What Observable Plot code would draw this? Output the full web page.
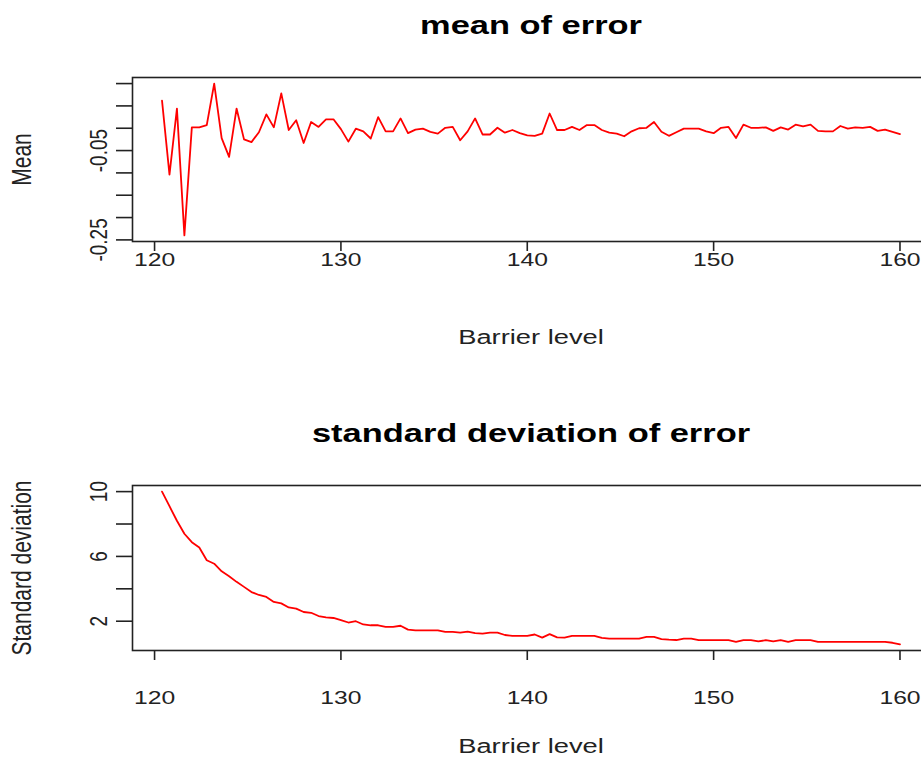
<!DOCTYPE html>
<html><head><meta charset="utf-8">
<script src="https://cdn.jsdelivr.net/npm/d3@7"></script>
<script src="https://cdn.jsdelivr.net/npm/@observablehq/plot@0.6"></script>
<style>
html,body{margin:0;padding:0;background:#fff;overflow:hidden;}
#chart{position:relative;width:921px;height:758px;overflow:hidden;background:#fff;}
#chart svg{display:block;overflow:hidden !important;max-width:none !important;}
#chart g[aria-label*="axis"] line, #chart g[aria-label*="axis"] path{stroke-width:1.6px;}
</style></head><body><div id="chart"></div>
<script>
// Barrier levels (x)
const barrier = [120.4,120.8,121.2,121.6,122.0,122.4,122.8,123.2,123.6,124.0,
124.4,124.8,125.2,125.6,126.0,126.4,126.8,127.2,127.6,128.0,
128.4,128.8,129.2,129.6,130.0,130.4,130.8,131.2,131.6,132.0,
132.4,132.8,133.2,133.6,134.0,134.4,134.8,135.2,135.6,136.0,
136.4,136.8,137.2,137.6,138.0,138.4,138.8,139.2,139.6,140.0,
140.4,140.8,141.2,141.6,142.0,142.4,142.8,143.2,143.6,144.0,
144.4,144.8,145.2,145.6,146.0,146.4,146.8,147.2,147.6,148.0,
148.4,148.8,149.2,149.6,150.0,150.4,150.8,151.2,151.6,152.0,
152.4,152.8,153.2,153.6,154.0,154.4,154.8,155.2,155.6,156.0,
156.4,156.8,157.2,157.6,158.0,158.4,158.8,159.2,159.6,160.0];

// Mean of error
const meanErr = [0.062,-0.104,0.044,-0.240,0.002,0.002,0.007,0.100,-0.022,-0.064,
0.044,-0.025,-0.031,-0.009,0.031,0.002,0.078,-0.004,0.018,-0.033,
0.014,0.003,0.020,0.020,-0.002,-0.030,-0.001,-0.007,-0.023,0.025,
-0.007,-0.007,0.022,-0.011,-0.003,-0.001,-0.008,-0.012,0.001,0.003,
-0.027,-0.007,0.022,-0.014,-0.014,0.001,-0.010,-0.004,-0.011,-0.016,
-0.017,-0.012,0.033,-0.004,-0.004,0.003,-0.004,0.007,0.007,-0.004,
-0.010,-0.012,-0.018,-0.007,0.000,0.001,0.014,-0.008,-0.017,-0.009,
-0.001,-0.001,-0.001,-0.007,-0.011,0.001,0.003,-0.022,0.008,0.001,
0.001,0.002,-0.006,0.002,-0.003,0.008,0.004,0.008,-0.006,-0.007,
-0.007,0.005,-0.001,0.002,0.001,0.003,-0.006,-0.003,-0.008,-0.013];

// Standard deviation of error
const sdErr = [10.0,9.10,8.20,7.40,6.88,6.55,5.76,5.55,5.08,4.78,
4.43,4.12,3.80,3.62,3.50,3.19,3.10,2.85,2.78,2.57,
2.52,2.32,2.24,2.20,2.07,1.92,2.00,1.80,1.75,1.75,
1.65,1.65,1.72,1.48,1.44,1.44,1.44,1.44,1.34,1.34,
1.30,1.36,1.26,1.24,1.30,1.30,1.15,1.09,1.09,1.09,
1.18,0.99,1.20,1.00,0.99,1.09,1.09,1.09,1.09,0.97,
0.93,0.93,0.93,0.93,0.93,1.03,1.03,0.90,0.86,0.84,
0.93,0.93,0.83,0.83,0.83,0.83,0.83,0.73,0.83,0.83,
0.75,0.83,0.75,0.83,0.73,0.83,0.83,0.83,0.72,0.72,
0.72,0.72,0.72,0.72,0.72,0.72,0.72,0.72,0.67,0.57];

const xTicks = [120,130,140,150,160];
const meanTicks = [-0.25,-0.20,-0.15,-0.10,-0.05,0,0.05,0.10];
const meanLabels = [-0.25,-0.05];
const sdTicks = [2,4,6,8,10];
const sdLabels = [2,6,10];
const xLabel = "Barrier level";

const FONT = "'Liberation Sans', Arial, Helvetica, sans-serif";
const STRETCH = 1.3;

function rExtent(v){ const [a,b] = d3.extent(v); const p = (b-a)*0.04; return [a-p, b+p]; }

function panel({values, yTicks, yLabels, yFmt, title, ylab, height, marginBottom, tickDy}) {
  const data = barrier.map((b,i) => ({x: b, y: values[i]}));
  const svg = Plot.plot({
    width: 921, height, marginLeft: 132, marginRight: -8, marginTop: 77, marginBottom,
    style: {fontFamily: FONT, background: "#fff", color: "#222"},
    x: {domain: rExtent(barrier), ticks: xTicks, tickSize: 10, tickFormat: () => "", label: null},
    y: {domain: rExtent(values), ticks: yTicks, tickSize: 16, tickFormat: () => "", label: null},
    marks: [
      Plot.frame({stroke: "#222", strokeWidth: 1.6}),
      Plot.line(data, {x: "x", y: "y", stroke: "#ff0000", strokeWidth: 1.8}),
      Plot.text(xTicks, {x: d => d, frameAnchor: "bottom", dy: tickDy, text: d => String(d),
        fontSize: 19, fill: "#222", textAnchor: "middle", lineAnchor: "middle"}),
      Plot.text(yLabels, {y: d => d, frameAnchor: "left", dx: -33, rotate: -90, text: yFmt,
        fontSize: 19, fill: "#222", textAnchor: "middle", lineAnchor: "middle"}),
      Plot.text([title], {frameAnchor: "top", dy: -52, text: d => d, fontSize: 26.5,
        fontWeight: "bold", fill: "#000", textAnchor: "middle", lineAnchor: "middle"}),
      Plot.text([xLabel], {frameAnchor: "bottom", dy: 96, text: d => d, fontSize: 21,
        fill: "#222", textAnchor: "middle", lineAnchor: "middle"}),
      Plot.text([ylab], {frameAnchor: "left", dx: -110, rotate: -90, text: d => d, fontSize: 21,
        fill: "#222", textAnchor: "middle", lineAnchor: "middle"})
    ]
  });
  // R-style wide glyphs: stretch text horizontally on screen
  svg.querySelectorAll("text").forEach(t => {
    if (!t.textContent) return;
    const tr = t.getAttribute("transform") || "";
    t.setAttribute("transform", tr + (/rotate/.test(tr) ? ` scale(1,${STRETCH})` : ` scale(${STRETCH},1)`));
  });
  return svg;
}

const chart = document.getElementById("chart");
chart.appendChild(panel({values: meanErr, yTicks: meanTicks, yLabels: meanLabels, yFmt: d => d.toFixed(2),
  title: "mean of error", ylab: "Mean", height: 408, marginBottom: 167, tickDy: 18}));
chart.appendChild(panel({values: sdErr, yTicks: sdTicks, yLabels: sdLabels, yFmt: d => String(d),
  title: "standard deviation of error", ylab: "Standard deviation", height: 350, marginBottom: 108, tickDy: 47}));
</script></body></html>
